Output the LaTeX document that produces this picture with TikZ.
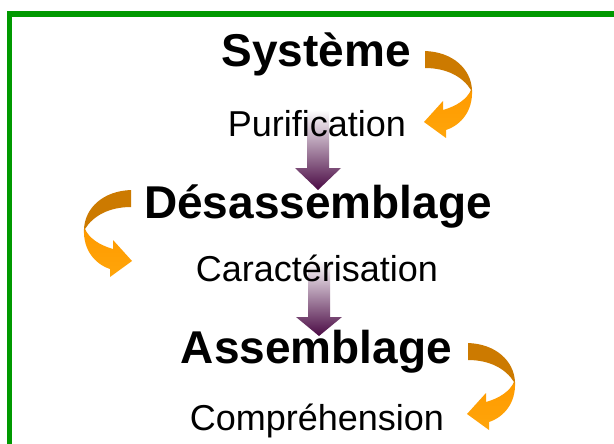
\documentclass[tikz,border=0pt]{standalone}
\usepackage{fontspec}
\setmainfont{Liberation Sans}
\definecolor{framegreen}{RGB}{0,153,0}
\definecolor{oadark}{RGB}{204,122,0}
\definecolor{oalight}{RGB}{255,155,0}
\definecolor{oalight2}{RGB}{255,165,10}
\definecolor{purbot}{RGB}{74,10,68}
\pgfdeclareverticalshading{orangeshade}{100bp}{color(0bp)=(oalight2); color(25bp)=(oalight2); color(51bp)=(oalight); color(54bp)=(oadark); color(75bp)=(oadark); color(100bp)=(oadark)}
\tikzset{
  titletext/.style={font=\fontsize{46}{46}\selectfont\bfseries, anchor=base, inner sep=0pt},
  steptext/.style={font=\fontsize{36}{36}\selectfont, anchor=base, inner sep=0pt},
  orangearrow/.pic={
    \shade[shading=orangeshade] (0,0) .. controls (28,1) and (46,18) .. (47,39)
      .. controls (48,60) and (36,74) .. (21,79)
      -- (21,87) -- (-1,71) -- (18,50) -- (18,59)
      .. controls (32,55) and (42,48) .. (46,39)
      .. controls (38,26) and (22,17) .. (0,17) -- cycle;
  }
}
\newcommand\purplearrow[4]{% x, ytop, ytip, yhead
  \shade[top color=white, bottom color=purbot]
    ({#1-11},#2) -- ({#1+11},#2) -- ({#1+11},#4) -- ({#1+23},#4) -- (#1,#3)
    -- ({#1-23},#4) -- ({#1-11},#4) -- cycle;}
\begin{document}
\begin{tikzpicture}[x=1pt,y=-1pt]
\useasboundingbox (0,0) rectangle (614,444);
\clip (0,0) rectangle (614,444);
\fill[white] (0,0) rectangle (614,444);
% frame
\draw[framegreen, line width=5.5pt] (9.5,460) -- (9.5,14) -- (630,14);
% purple arrows
\purplearrow{318}{110}{190}{168}
\purplearrow{319}{260}{336}{317}
% orange arrows
\pic at (425,51) {orangearrow};
\pic[xscale=-1] at (131,190) {orangearrow};
\pic at (468,343) {orangearrow};
% texts
\node[titletext] (sys) at (316,67) {Système};
\node[steptext] (pur) at (317,136) {Purification};
\node[titletext] (des) at (318,218) {Désassemblage};
\node[steptext] (car) at (317,281) {Caractérisation};
\node[titletext] (ass) at (316.5,363) {Assemblage};
\node[steptext] (com) at (317,430) {Compréhension};
\end{tikzpicture}
\end{document}
